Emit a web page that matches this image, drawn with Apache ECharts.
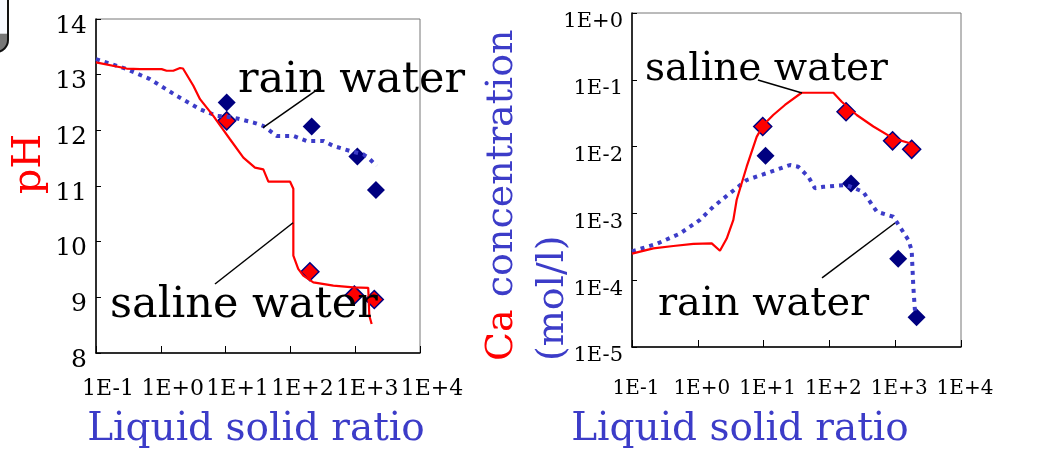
<!DOCTYPE html>
<html>
<head>
<meta charset="utf-8">
<script src="https://cdn.jsdelivr.net/npm/echarts@6/dist/echarts.min.js"></script>
<style>
html,body{margin:0;padding:0;background:#fff;}
#chart{width:1055px;height:452px;}
</style>
</head>
<body>
<div id="chart"></div>
<script>
// ---- tick labels ----
var xTickLabels = ['1E-1','1E+0','1E+1','1E+2','1E+3','1E+4'];
var phTickLabels = ['8','9','10','11','12','13','14'];
var caTickLabels = ['1E-5','1E-4','1E-3','1E-2','1E-1','1E+0'];

// ---- left chart: pH ----
var phSalineX = [0.1, 0.297, 0.479, 1.03, 1.23, 1.56, 1.98, 2.2, 3.18, 4.03, 6.46, 8.7, 11.7, 18.8, 28.4, 38.2, 45.7, 98.6, 111, 111, 132, 158, 226, 460, 934, 1589, 1652, 1795];
var phSalineY = [13.22, 13.11, 13.10, 13.10, 13.07, 13.07, 13.12, 13.11, 12.80, 12.56, 12.26, 12.05, 11.84, 11.51, 11.33, 11.30, 11.08, 11.08, 10.95, 9.75, 9.51, 9.39, 9.27, 9.21, 9.18, 9.17, 8.67, 8.52];
var phRainX = [0.1, 0.297, 0.68, 1.76, 4.03, 7.28, 13.2, 26.9, 38, 61.4, 111, 178, 321, 460, 830, 1334, 1690, 2140];
var phRainY = [13.28, 13.10, 12.92, 12.62, 12.38, 12.26, 12.23, 12.14, 12.08, 11.90, 11.90, 11.81, 11.81, 11.72, 11.63, 11.57, 11.48, 11.36];
var phSalineMeasX = [10.4, 200, 970, 1970];
var phSalineMeasY = [12.17, 9.46, 9.04, 8.96];
var phRainMeasX = [10.4, 213, 1080, 2090];
var phRainMeasY = [12.50, 12.07, 11.53, 10.93];

// ---- right chart: Ca concentration ----
var caSalineX = [0.1, 0.211, 0.425, 0.855, 1.63, 2.17, 2.75, 3.47, 3.9, 5.53, 7.85, 9.9, 14, 21.1, 37.8, 115, 154, 260, 466, 934, 1680];
var caSalineY = [2.5e-4, 3.0e-4, 3.25e-4, 3.5e-4, 3.55e-4, 2.76e-4, 4.2e-4, 8e-4, 1.6e-3, 5e-3, 1.4e-2, 2.1e-2, 2.97e-2, 4.2e-2, 6.4e-2, 6.4e-2, 4.7e-2, 2.97e-2, 2.0e-2, 1.33e-2, 1.12e-2];
var caRainX = [0.1, 0.237, 0.537, 1.08, 1.72, 3.08, 5.53, 11.1, 25.2, 33.6, 47.7, 60.3, 80.7, 183, 327, 525, 934, 1175, 1585, 1780, 1885, 1995];
var caRainY = [2.7e-4, 3.5e-4, 5e-4, 8e-4, 1.26e-3, 2e-3, 3.16e-3, 4e-3, 5.3e-3, 5e-3, 3.55e-3, 2.38e-3, 2.5e-3, 2.66e-3, 2.1e-3, 1.06e-3, 8.9e-4, 6.3e-4, 4e-4, 2.8e-4, 8e-5, 3.5e-5];
var caSalineMeasX = [9.7, 179, 912, 1780];
var caSalineMeasY = [2.0e-2, 3.33e-2, 1.22e-2, 9.1e-3];
var caRainMeasX = [10.7, 213, 1110, 2110];
var caRainMeasY = [7.3e-3, 2.8e-3, 2.1e-4, 2.8e-5];

// ---- annotation leader lines (data coords) ----
var phRainLeader = [[267, 12.74], [37.8, 12.05]];
var phSalineLeader = [[6.86, 9.24], [110, 10.34]];
var caSalineLeader = [[8.2, 0.0993], [38.4, 0.0634]];
var caRainLeader = [[77.3, 1.08e-4], [993, 7.18e-4]];

function zip(a, b) { return a.map(function (v, i) { return [v, b[i]]; }); }
function expIdx(v, off) { return Math.round(Math.log10(v)) + off; }

var RED = '#ff0000', BLUE = '#3c3cc8', NAVY = '#000080';
var tickFont = '"DejaVu Serif", serif';
var bigFont = '"DejaVu Serif", serif';

function xAxisDef(gi, pad, margin, size) {
  return {
    type: 'log', logBase: 10, gridIndex: gi, min: 0.1, max: 10000,
    axisLine: { show: true, lineStyle: { color: '#000', width: 1.5 } },
    axisTick: { show: true, inside: true, length: 7, lineStyle: { color: '#000', width: 1 } },
    splitLine: { show: false }, minorTick: { show: false },
    axisLabel: {
      margin: margin, color: '#000', fontFamily: tickFont, fontSize: size, padding: pad,
      showMinLabel: true, showMaxLabel: true,
      formatter: function (v) { return xTickLabels[expIdx(v, 1)]; }
    }
  };
}

function leader(pts) {
  return {
    silent: true, symbol: ['none', 'none'], label: { show: false },
    lineStyle: { color: '#000', width: 1.5, type: 'solid' },
    data: [[{ coord: pts[0] }, { coord: pts[1] }]]
  };
}

var diamond = 'diamond';
var option = {
  animation: false,
  backgroundColor: '#fff',
  grid: [
    { left: 96, top: 19, width: 324, height: 334, show: true, borderColor: '#777', borderWidth: 1, backgroundColor: 'transparent' },
    { left: 632, top: 13, width: 329, height: 334, show: true, borderColor: '#777', borderWidth: 1, backgroundColor: 'transparent' }
  ],
  xAxis: [xAxisDef(0, [0, 0, 0, 24], 25, 22), xAxisDef(1, [0, 0, 0, 8], 32, 20)],
  yAxis: [
    {
      type: 'value', gridIndex: 0, min: 8, max: 14, interval: 1,
      axisLine: { show: true, lineStyle: { color: '#000', width: 1.5 } },
      axisTick: { show: true, inside: true, length: 5, lineStyle: { color: '#000' } },
      splitLine: { show: false },
      axisLabel: { margin: 9, color: '#000', fontFamily: tickFont, fontSize: 25, verticalAlign: 'top', lineHeight: 14,
        formatter: function (v) { return phTickLabels[Math.round(v) - 8]; } }
    },
    {
      type: 'log', logBase: 10, gridIndex: 1, min: 1e-5, max: 1,
      axisLine: { show: true, lineStyle: { color: '#000', width: 1.5 } },
      axisTick: { show: true, inside: true, length: 5, lineStyle: { color: '#000' } },
      splitLine: { show: false }, minorTick: { show: false },
      axisLabel: { margin: 9, color: '#000', fontFamily: tickFont, fontSize: 21, verticalAlign: 'top', lineHeight: 18,
        formatter: function (v) { return caTickLabels[expIdx(v, 5)]; } }
    }
  ],
  series: [
    { type: 'line', xAxisIndex: 0, yAxisIndex: 0, data: zip(phRainX, phRainY), symbol: 'none',
      lineStyle: { color: BLUE, width: 4, type: [4, 5] }, markLine: leader(phRainLeader) },
    { type: 'line', xAxisIndex: 0, yAxisIndex: 0, data: zip(phSalineX, phSalineY), symbol: 'none',
      lineStyle: { color: RED, width: 2.2 }, markLine: leader(phSalineLeader) },
    { type: 'scatter', xAxisIndex: 0, yAxisIndex: 0, data: zip(phRainMeasX, phRainMeasY), symbol: diamond, symbolSize: 18,
      itemStyle: { color: NAVY, opacity: 1 } },
    { type: 'scatter', xAxisIndex: 0, yAxisIndex: 0, data: zip(phSalineMeasX, phSalineMeasY), symbol: diamond, symbolSize: 18,
      itemStyle: { color: RED, borderColor: NAVY, borderWidth: 1.5, opacity: 1 } },

    { type: 'line', xAxisIndex: 1, yAxisIndex: 1, data: zip(caRainX, caRainY), symbol: 'none',
      lineStyle: { color: BLUE, width: 4, type: [4, 5] }, markLine: leader(caRainLeader) },
    { type: 'line', xAxisIndex: 1, yAxisIndex: 1, data: zip(caSalineX, caSalineY), symbol: 'none',
      lineStyle: { color: RED, width: 2.2 }, markLine: leader(caSalineLeader) },
    { type: 'scatter', xAxisIndex: 1, yAxisIndex: 1, data: zip(caRainMeasX, caRainMeasY), symbol: diamond, symbolSize: 18,
      itemStyle: { color: NAVY, opacity: 1 } },
    { type: 'scatter', xAxisIndex: 1, yAxisIndex: 1, data: zip(caSalineMeasX, caSalineMeasY), symbol: diamond, symbolSize: 18,
      itemStyle: { color: RED, borderColor: NAVY, borderWidth: 1.5, opacity: 1 } }
  ],
  graphic: [
    { type: 'rect', shape: { x: -40, y: -20, width: 48, height: 72, r: 12 },
      style: { stroke: '#111', lineWidth: 2,
        fill: { type: 'linear', x: 0, y: 0, x2: 0, y2: 1, colorStops: [
          { offset: 0, color: '#f8faff' }, { offset: 0.735, color: '#f8faff' },
          { offset: 0.74, color: '#777' }, { offset: 1, color: '#777' }] } } },
    // y-axis titles
    { type: 'text', x: 30, y: 164, rotation: Math.PI / 2,
      style: { text: 'pH', fill: RED, font: '40px "DejaVu Serif"', textAlign: 'center', textVerticalAlign: 'middle' } },
    { type: 'text', x: 502, y: 361, rotation: Math.PI / 2,
      style: { text: '{r|Ca} {b|concentration}', textAlign: 'left', textVerticalAlign: 'middle',
        rich: { r: { fill: RED, fontFamily: bigFont, fontSize: 38 }, b: { fill: BLUE, fontFamily: bigFont, fontSize: 38 } },
        fill: BLUE, font: '38px "DejaVu Serif"' } },
    { type: 'text', x: 553, y: 361, rotation: Math.PI / 2,
      style: { text: '(mol/l)', fill: BLUE, font: '38px "DejaVu Serif"', textAlign: 'left', textVerticalAlign: 'middle' } },
    // x-axis titles
    { type: 'text', x: 256, y: 430,
      style: { text: 'Liquid solid ratio', fill: BLUE, font: '39px "DejaVu Serif"', textAlign: 'center', textVerticalAlign: 'middle' } },
    { type: 'text', x: 740, y: 430,
      style: { text: 'Liquid solid ratio', fill: BLUE, font: '39px "DejaVu Serif"', textAlign: 'center', textVerticalAlign: 'middle' } },
    // annotations
    { type: 'text', x: 238, y: 81, z: 100,
      style: { text: 'rain water', fill: '#000', font: '43px "DejaVu Serif"', textAlign: 'left', textVerticalAlign: 'middle' } },
    { type: 'text', x: 110, y: 306, z: 100,
      style: { text: 'saline water', fill: '#000', font: '43px "DejaVu Serif"', textAlign: 'left', textVerticalAlign: 'middle' } },
    { type: 'text', x: 645, y: 70, z: 100,
      style: { text: 'saline water', fill: '#000', font: '39px "DejaVu Serif"', textAlign: 'left', textVerticalAlign: 'middle' } },
    { type: 'text', x: 658, y: 305, z: 100,
      style: { text: 'rain water', fill: '#000', font: '40px "DejaVu Serif"', textAlign: 'left', textVerticalAlign: 'middle' } }
  ]
};

var chart = echarts.init(document.getElementById('chart'), null, { renderer: 'canvas' });
chart.setOption(option);
</script>
</body>
</html>
